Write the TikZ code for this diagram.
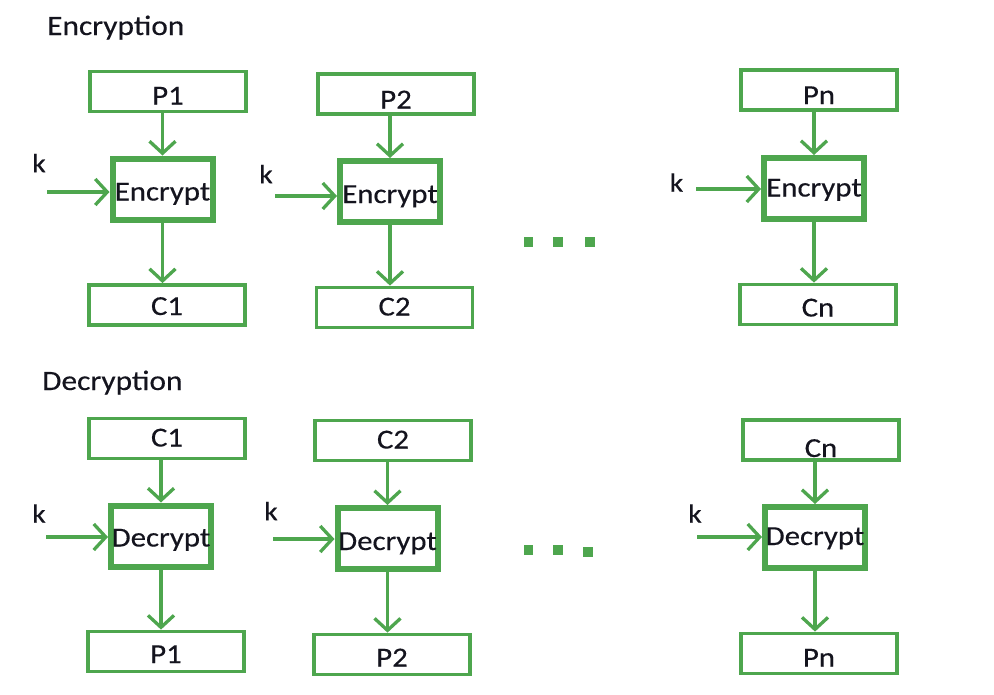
\documentclass[tikz,border=0pt]{standalone}
\usepackage{fontspec}
\setmainfont{Carlito}[FakeStretch=1.12, FakeBold=0.35]
\usetikzlibrary{arrows.meta}
\definecolor{g}{RGB}{78,166,78}
\definecolor{ink}{RGB}{20,20,30}
\tikzset{
  x=1pt, y=-1pt,
  thinbox/.style={draw=g, line width=3.8pt, rectangle, minimum width=156pt, minimum height=40pt, inner sep=0pt, text=ink, font=\fontsize{27.5}{27.5}\selectfont},
  thickbox/.style={draw=g, line width=6pt, rectangle, minimum width=100pt, minimum height=61pt, inner sep=0pt, text=ink, font=\fontsize{27.5}{27.5}\selectfont},
  th/.style={text height=#1, text depth=0pt},
  arr/.style={draw=g, line width=3.3pt, -{Straight Barb[length=12pt,width=26pt]}},
  klbl/.style={text=ink, inner sep=0pt, font=\fontsize{26.5}{26.5}\selectfont},
  title/.style={text=ink, inner sep=0pt, anchor=base west, font=\fontsize{28}{28}\selectfont},
  dot/.style={fill=g, draw=none}
}
\begin{document}
\begin{tikzpicture}
\useasboundingbox (0,0) rectangle (994,694);

% titles
\node[title] (tenc) at (47,35) {Encryption};
\node[title] (tdec) at (42,390) {Decryption};

% ---------- Encryption ----------
\node[thinbox, th=26pt] (p1) at (168,91.5) {P1};
\node[thickbox, th=23pt] (enc1) at (162.5,189) {Encrypt};
\node[thinbox, th=20pt] (c1) at (167,305) {C1};

\node[thinbox, th=29pt] (p2) at (396,94) {P2};
\node[thickbox, th=23pt] (enc2) at (390,191.5) {Encrypt};
\node[thinbox, th=16pt] (c2) at (394.5,307.5) {C2};

\node[thinbox, th=28pt] (pn) at (819,90) {Pn};
\node[thickbox, th=16pt] (encn) at (814,188.5) {Encrypt};
\node[thinbox, th=24pt] (cn) at (818,304.5) {Cn};

\node[klbl] (k1) at (39,163) {k};
\node[klbl] (k2) at (266,174) {k};
\node[klbl] (kn) at (676.5,182.5) {k};

\coordinate (k1s) at (47,192);
\coordinate (k2s) at (275,196);
\coordinate (kns) at (696,189);

\draw[arr] (p1.south -| enc1) -- (enc1.north);
\draw[arr] (enc1.south) -- (enc1 |- c1.north);
\draw[arr] (k1s) -- (enc1.west |- k1s);

\draw[arr] (p2.south -| enc2) -- (enc2.north);
\draw[arr] (enc2.south) -- (enc2 |- c2.north);
\draw[arr] (k2s) -- (enc2.west |- k2s);

\draw[arr] (pn.south -| encn) -- (encn.north);
\draw[arr] (encn.south) -- (encn |- cn.north);
\draw[arr] (kns) -- (encn.west |- kns);

\fill[dot] (524,237) rectangle (533,247);
\fill[dot] (553,237) rectangle (563,247);
\fill[dot] (585,237) rectangle (595,247);

% ---------- Decryption ----------
\node[thinbox, th=16pt] (c1d) at (167,438.5) {C1};
\node[thickbox, th=21pt] (dec1) at (161,536) {Decrypt};
\node[thinbox, th=23pt] (p1d) at (166,651.5) {P1};

\node[thinbox, th=16pt] (c2d) at (393,440.5) {C2};
\node[thickbox, th=23pt] (dec2) at (387.5,538.5) {Decrypt};
\node[thinbox, th=24pt] (p2d) at (392,654.5) {P2};

\node[thinbox, th=34pt] (cnd) at (821,440) {Cn};
\node[thickbox, th=15pt] (decn) at (815,537.5) {Decrypt};
\node[thinbox, th=26pt] (pnd) at (819,653.5) {Pn};

\node[klbl] (k1d) at (39,513.5) {k};
\node[klbl] (k2d) at (271,511) {k};
\node[klbl] (knd) at (695,513.5) {k};

\coordinate (k1ds) at (46,537);
\coordinate (k2ds) at (273,539);
\coordinate (knds) at (697,537);

\draw[arr] (c1d.south -| dec1) -- (dec1.north);
\draw[arr] (dec1.south) -- (dec1 |- p1d.north);
\draw[arr] (k1ds) -- (dec1.west |- k1ds);

\draw[arr] (c2d.south -| dec2) -- (dec2.north);
\draw[arr] (dec2.south) -- (dec2 |- p2d.north);
\draw[arr] (k2ds) -- (dec2.west |- k2ds);

\draw[arr] (cnd.south -| decn) -- (decn.north);
\draw[arr] (decn.south) -- (decn |- pnd.north);
\draw[arr] (knds) -- (decn.west |- knds);

\fill[dot] (524,545) rectangle (533,555);
\fill[dot] (553,545) rectangle (563,555);
\fill[dot] (583,547) rectangle (593,557);
\end{tikzpicture}
\end{document}
